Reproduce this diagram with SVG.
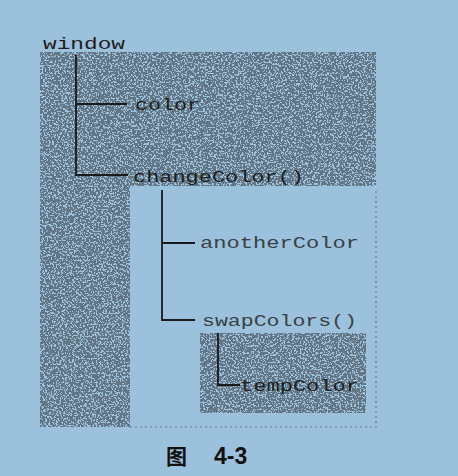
<svg xmlns="http://www.w3.org/2000/svg" width="458" height="476" viewBox="0 0 458 476">
<defs>
<filter id="grain" x="0" y="0" width="100%" height="100%" color-interpolation-filters="sRGB">
<feTurbulence type="fractalNoise" baseFrequency="0.55" numOctaves="2" seed="7" result="n"/>
<feColorMatrix in="n" type="matrix" values="0 0 0 0 0.384  0 0 0 0 0.463  0 0 0 0 0.52  1 0 0 0 0" result="c"/>
<feComponentTransfer in="c" result="t"><feFuncA type="discrete" tableValues="0 0 0 0 1 1 1 1 1"/></feComponentTransfer>
<feComposite in="t" in2="SourceAlpha" operator="in"/>
</filter>
<style>
.bg{fill:#9bc1dc}
.shade{fill:#62768a;filter:url(#grain)}
.edge{fill:none;stroke:#6a7e8e;stroke-width:1.2;stroke-dasharray:2 3}
.code{font-family:"Liberation Mono","Courier New",monospace;font-size:16.5px;fill:#1e1e1e}
.light{fill:#3a3f44}
.conn{fill:none;stroke:#1a1a1a;stroke-width:1.8}
.cap{font-weight:bold;fill:#111}
</style>
</defs>
<rect class="bg" x="0" y="0" width="458" height="476"/>
<path class="shade" d="M40,52 H376 V186 H130 V427 H40 Z"/>
<rect class="shade" x="200" y="333" width="166" height="80"/>
<path class="edge" d="M130,427 H376 V190"/>
<g id="connectors">
<path class="conn" d="M76,55 V175 H128 M76,104 H127"/>
<path class="conn" d="M162,190 V320 H195 M162,243 H195"/>
<path class="conn" d="M218,333 V385 H240"/>
</g>
<g id="window"><text class="code" x="43" y="49" textLength="82" lengthAdjust="spacingAndGlyphs">window</text></g>
<g id="color"><text class="code" x="135" y="110" textLength="65" lengthAdjust="spacingAndGlyphs">color</text></g>
<g id="changeColor"><text class="code" x="133" y="182" textLength="171" lengthAdjust="spacingAndGlyphs">changeColor()</text></g>
<g id="anotherColor"><text class="code light" x="200" y="248" textLength="159" lengthAdjust="spacingAndGlyphs">anotherColor</text></g>
<g id="swapColors"><text class="code light" x="202" y="326" textLength="155" lengthAdjust="spacingAndGlyphs">swapColors()</text></g>
<g id="tempColor"><text class="code" x="240" y="391" textLength="119" lengthAdjust="spacingAndGlyphs">tempColor</text></g>
<text class="cap" y="464"><tspan x="166" font-family="'Noto Sans CJK SC',sans-serif" font-size="21">图</tspan><tspan x="214" font-family="'Liberation Sans',Arial,sans-serif" font-size="23">4-3</tspan></text>
</svg>
